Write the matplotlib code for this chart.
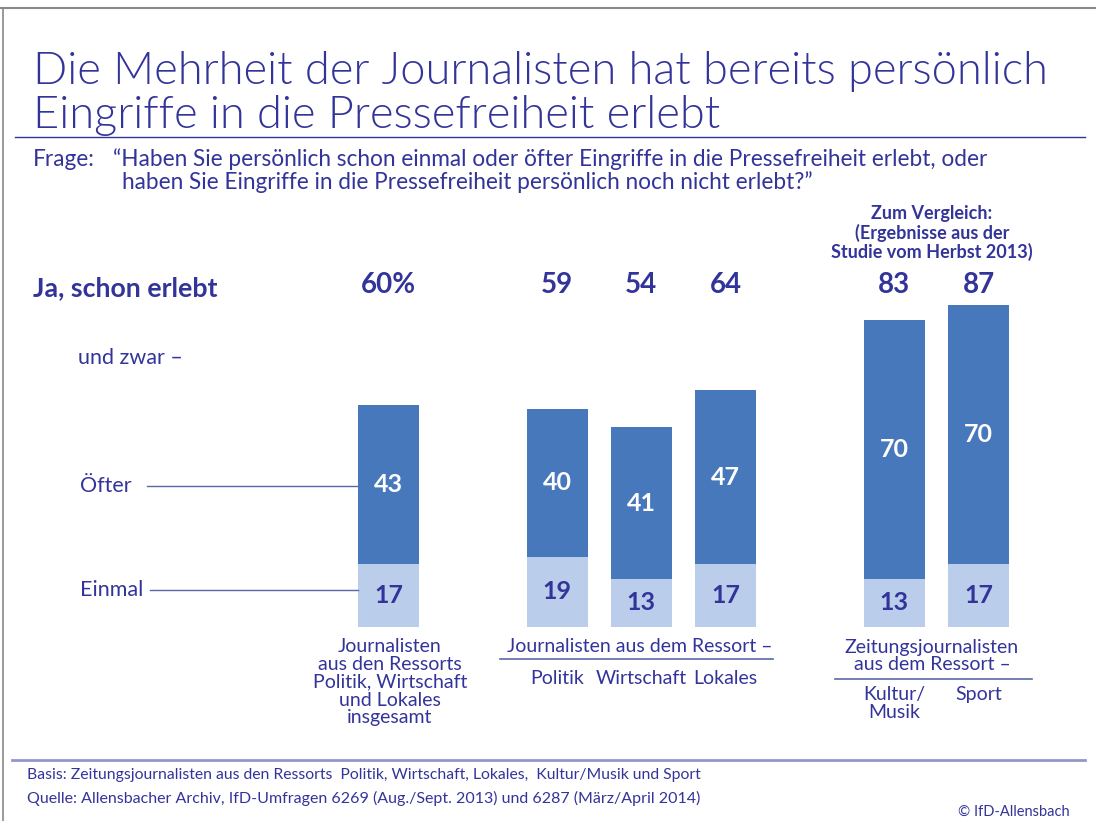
import matplotlib
matplotlib.use("Agg")
import matplotlib.pyplot as plt
from matplotlib.lines import Line2D

plt.rcParams['font.family'] = ['Lato', 'DejaVu Sans']

# data
totals = [60, 59, 54, 64, 83, 87]
einmal = [17, 19, 13, 17, 13, 17]
oefter = [43, 40, 41, 47, 70, 70]
xpos = [0, 2, 3, 4, 6, 7]
total_labels = ['60%', '59', '54', '64', '83', '87']
sub_labels = ['Politik', 'Wirtschaft', 'Lokales', 'Kultur/\nMusik', 'Sport']

NAVY = '#33349a'
DARK = '#4878bc'
LIGHT = '#bacdeb'
LINE = '#5b68a8'

W, H = 1096, 821
def fx(x): return x / W
def fy(y): return 1 - y / H

fig = plt.figure(figsize=(W / 100, H / 100), dpi=100)

# frame lines (top / left)
fig.add_artist(Line2D([0, 1], [fy(8), fy(8)], color='#888888', lw=1.5))
fig.add_artist(Line2D([fx(3), fx(3)], [fy(8), 0], color='#888888', lw=1.2))

# title
fig.text(fx(33), fy(84), 'Die Mehrheit der Journalisten hat bereits persönlich',
         fontsize=32.5, color=NAVY, fontweight=300, va='baseline')
fig.text(fx(33), fy(128), 'Eingriffe in die Pressefreiheit erlebt',
         fontsize=32.5, color=NAVY, fontweight=300, va='baseline')
fig.add_artist(Line2D([fx(15), fx(1085)], [fy(137), fy(137)], color=NAVY, lw=1))

fig.text(fx(33), fy(166), 'Frage:', fontsize=16.3, color=NAVY, va='baseline')
fig.text(fx(113), fy(166), '\u201cHaben Sie persönlich schon einmal oder öfter Eingriffe in die Pressefreiheit erlebt, oder',
         fontsize=16.3, color=NAVY, va='baseline')
fig.text(fx(122), fy(189), 'haben Sie Eingriffe in die Pressefreiheit persönlich noch nicht erlebt?\u201d',
         fontsize=16.3, color=NAVY, va='baseline')

# bars axis: baseline at y=627 px, 3.7 px per percent, 84.3 px per slot
unit_x = 84.3
x0_px = 388.5
left_px = x0_px - 0.5 * unit_x
right_px = x0_px + 7.5 * unit_x
ax = fig.add_axes([fx(left_px), fy(627), (right_px - left_px) / W, 370 / H])
ax.set_xlim(-0.5, 7.5)
ax.set_ylim(0, 100)
ax.axis('off')

bw = 61 / unit_x
ax.bar(xpos, einmal, width=bw, color=LIGHT)
ax.bar(xpos, oefter, width=bw, bottom=einmal, color=DARK)

for x, e, o, t, tl in zip(xpos, einmal, oefter, totals, total_labels):
    ax.text(x, e / 2, str(e), ha='center', va='center', fontsize=18,
            fontweight='bold', color=NAVY)
    ax.text(x, e + o / 2, str(o), ha='center', va='center', fontsize=18,
            fontweight='bold', color='white')
    ax.text(x, 92.4, tl, ha='center', va='center', fontsize=20,
            fontweight='bold', color=NAVY, clip_on=False)

# left side labels
fig.text(fx(33), fy(288), 'Ja, schon erlebt', fontsize=19.3, fontweight='bold',
         color=NAVY, va='center')
fig.text(fx(78), fy(358), 'und zwar \u2013', fontsize=15.5, color=NAVY, va='center')
fig.text(fx(80), fy(486), 'Öfter', fontsize=15.5, color=NAVY, va='center')
fig.text(fx(80), fy(590), 'Einmal', fontsize=15.5, color=NAVY, va='center')
fig.add_artist(Line2D([fx(147), fx(358)], [fy(486), fy(486)], color=LINE, lw=1))
fig.add_artist(Line2D([fx(150), fx(358)], [fy(590), fy(590)], color=LINE, lw=1))

fig.text(fx(932), fy(233), 'Zum Vergleich:\n(Ergebnisse aus der\nStudie vom Herbst 2013)',
         fontsize=13, fontweight='bold', color=NAVY, ha='center', va='center',
         linespacing=1.1)

# category labels
fig.text(fx(390), fy(638), 'Journalisten\naus den Ressorts\nPolitik, Wirtschaft\nund Lokales\ninsgesamt',
         fontsize=14, color=NAVY, ha='center', va='top', linespacing=1.06)
fig.text(fx(640), fy(647), 'Journalisten aus dem Ressort \u2013', fontsize=14,
         color=NAVY, ha='center', va='center')
fig.add_artist(Line2D([fx(500), fx(773)], [fy(659), fy(659)], color=LINE, lw=1.2))
fig.text(fx(932), fy(656), 'Zeitungsjournalisten\naus dem Ressort \u2013', fontsize=14,
         color=NAVY, ha='center', va='center', linespacing=1.0)
fig.add_artist(Line2D([fx(835), fx(1032)], [fy(679), fy(679)], color=LINE, lw=1.2))

for x, lab in zip(xpos[1:], sub_labels):
    y_px = 678 if x < 5 else 686
    va = 'center' if x < 5 else 'top'
    ax.text(x, 0, lab, ha='center', va=va, fontsize=14, color=NAVY,
            linespacing=1.05, clip_on=False,
            transform=ax.get_xaxis_transform() + matplotlib.transforms.ScaledTranslation(
                0, -(y_px - 627) / 100, fig.dpi_scale_trans))

# footer
fig.add_artist(Line2D([fx(12), fx(1085)], [fy(760), fy(760)], color='#9396cc', lw=2))
fig.text(fx(27), fy(775), 'Basis: Zeitungsjournalisten aus den Ressorts  Politik, Wirtschaft, Lokales,  Kultur/Musik und Sport',
         fontsize=11.3, color=NAVY, va='center')
fig.text(fx(27), fy(798), 'Quelle: Allensbacher Archiv, IfD-Umfragen 6269 (Aug./Sept. 2013) und 6287 (März/April 2014)',
         fontsize=11.5, color=NAVY, va='center')
fig.text(fx(1070), fy(812), '\u00a9 IfD-Allensbach', fontsize=10.5, color=NAVY,
         ha='right', va='center')

fig.savefig('out.png', dpi=100)
